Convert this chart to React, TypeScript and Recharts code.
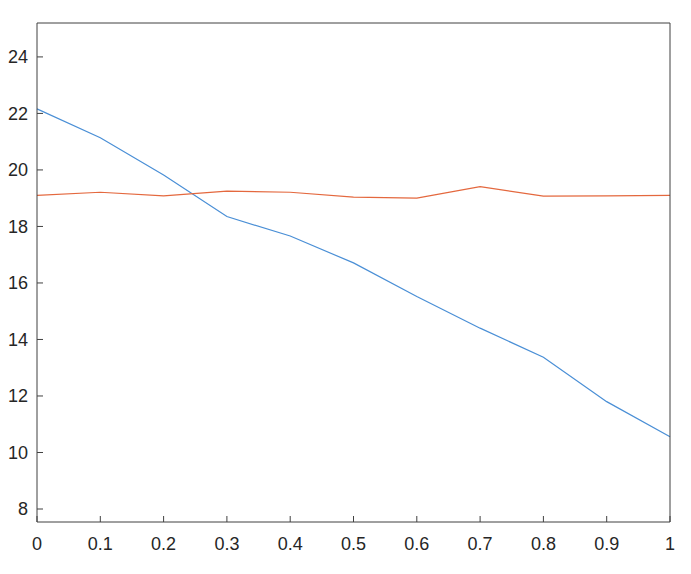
import React from 'react';
import { LineChart, Line, XAxis, YAxis } from 'recharts';

// x positions and the two series
const xValues = [0, 0.1, 0.2, 0.3, 0.4, 0.5, 0.6, 0.7, 0.8, 0.9, 1];
const blueSeries = [22.16, 21.14, 19.82, 18.35, 17.66, 16.71, 15.52, 14.4, 13.37, 11.8, 10.56];
const redSeries = [19.1, 19.21, 19.08, 19.25, 19.21, 19.04, 19.0, 19.41, 19.07, 19.08, 19.1];

const xTicks = [0, 0.1, 0.2, 0.3, 0.4, 0.5, 0.6, 0.7, 0.8, 0.9, 1];
const yTicks = [8, 10, 12, 14, 16, 18, 20, 22, 24];

const AXIS = '#404040';
const TEXT = '#262626';

const data = xValues.map((x, i) => ({ x, blue: blueSeries[i], red: redSeries[i] }));

export default function App() {
  const tickStyle = { fill: TEXT, fontSize: 18, fontFamily: '"Liberation Sans", Arial, sans-serif' };
  return (
    <div style={{ position: 'absolute', left: 0, top: 0, background: '#fff' }}>
      <LineChart width={691} height={574} data={data} margin={{ top: 22, right: 20, left: 0, bottom: 0 }}>
        <XAxis
          dataKey="x"
          type="number"
          domain={[0, 1]}
          ticks={xTicks}
          tickFormatter={(v: number) => String(v)}
          height={52}
          tickSize={-6}
          tickMargin={21}
          stroke={AXIS}
          tick={tickStyle}
          interval={0}
        />
        <XAxis
          xAxisId="top"
          orientation="top"
          dataKey="x"
          type="number"
          domain={[0, 1]}
          ticks={xTicks}
          height={1}
          tickSize={-6}
          tick={false}
          stroke={AXIS}
          interval={0}
        />
        <YAxis
          type="number"
          domain={[7.54, 25.2]}
          ticks={yTicks}
          allowDataOverflow
          width={37}
          tickSize={-6}
          tickMargin={15}
          stroke={AXIS}
          tick={tickStyle}
          interval={0}
        />
        <YAxis
          yAxisId="right"
          orientation="right"
          type="number"
          domain={[7.54, 25.2]}
          ticks={yTicks}
          allowDataOverflow
          width={1}
          tickSize={-6}
          tick={false}
          stroke={AXIS}
          interval={0}
        />
        <Line type="linear" dataKey="blue" stroke="#4a8fd6" strokeWidth={1.2} dot={false} isAnimationActive={false} />
        <Line type="linear" dataKey="red" stroke="#e4683e" strokeWidth={1.2} dot={false} isAnimationActive={false} />
      </LineChart>
    </div>
  );
}
